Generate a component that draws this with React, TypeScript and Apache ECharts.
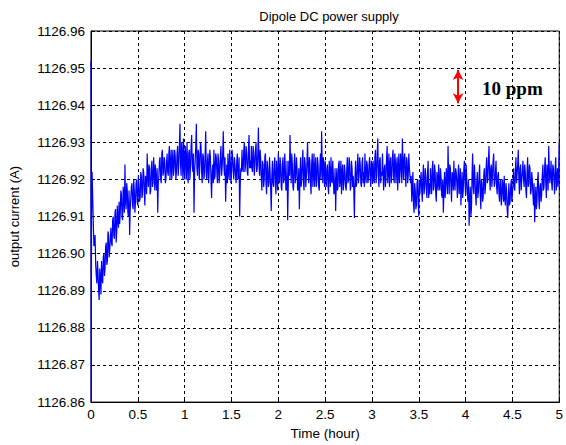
import React, { useEffect, useRef } from "react";
import * as echarts from "echarts";

// Output current is stored as an offset in mA above BASE_CURRENT (A)
const BASE_CURRENT = 1126.9;

// Turn-on transient (hours, mA offset)
const earlyTimes = [0, 0.002, 0.006, 0.012];
const earlyOffsets = [52, -40, 10, 22];

// Regularly sampled record after the transient (every SAMPLE_STEP hours)
const SAMPLE_START = 0.025; // hour
const SAMPLE_STEP = 0.0125; // hour
const sampledOffsets = [
  8, 3, -3, -8, -5, -12.5, -7,
  -2, -8, 0, -4, 3, -2, 5, 1,
  7, 2, 10, 4, 12, 6, 9, 14,
  11, 16, 9, 15, 24, 12, 17, 10,
  5, 15, 19, 12, 17, 14, 20, 13,
  18, 15, 21, 16, 22, 13, 19, 27,
  18, 23, 17, 25, 19, 22, 24, 17,
  11, 21, 26, 19, 28, 22, 25, 20,
  27, 21, 29, 24, 20, 28, 23, 26,
  22, 29, 24, 35, 21, 27, 31, 20,
  26, 30, 19, 28, 23, 32, 22, 11,
  25, 35, 21, 27, 24, 29, 19, 26,
  22, 33, 20, 27, 23, 26, 15, 24,
  28, 21, 26, 19, 25, 22, 29, 23,
  33, 21, 14, 24, 27, 20, 25, 22,
  26, 20, 24, 19, 27, 21, 10, 23,
  28, 22, 30, 24, 27, 21, 32, 25,
  29, 22, 27, 24, 30, 23, 34, 21,
  25, 17, 24, 20, 27, 16, 23, 19,
  22, 11.5, 25, 18, 26, 16, 21, 27,
  19, 24, 17, 26, 20, 23, 18, 9,
  25, 32, 19, 24, 17, 27, 21, 23,
  18, 12, 26, 20, 28, 17, 24, 21,
  30, 19, 25, 16, 27, 22, 18, 26,
  20, 24, 17, 27, 33, 19, 23, 25,
  18, 24, 16, 22, 26, 19, 21, 17,
  11.5, 23, 18, 25, 20, 16, 24, 19,
  22, 17, 26, 20, 24, 18, 23, 21,
  9.6, 25, 19, 27, 21, 24, 18, 26,
  22, 27, 19, 24, 20, 26, 18, 23,
  25, 19, 28, 21, 31, 18, 26, 22,
  27, 17, 24, 20, 29, 22, 18, 26,
  21, 28, 19, 25, 23, 17, 27, 22,
  24, 31, 20, 27, 18, 25, 21, 23,
  19, 14, 22, 11, 17, 13, 20, 10,
  16, 22, 14, 24, 18, 21, 15, 25,
  19, 23, 16, 25, 18, 22, 14, 20,
  24, 17, 21, 15, 11, 22, 18, 20,
  29, 16, 23, 14, 21, 25, 17, 22,
  15, 24, 19, 13, 22, 17, 25, 16,
  20, 14, 7.5, 18, 12, 27, 16, 21,
  13, 22, 17, 24, 12, 19, 15, 23,
  18, 26, 20, 29, 17, 24, 21, 27,
  19, 25, 16, 22, 14, 20, 15, 18,
  21, 13, 17, 9.6, 19, 14, 20, 16,
  23, 17, 26, 19, 28, 16, 24, 20,
  25, 18, 22, 15, 26, 19, 23, 17,
  20, 13, 8.5, 18, 14, 22, 12, 19,
  16, 24, 18, 26, 15, 22, 29, 19,
  25, 17, 23, 16, 26, 20, 18, 30,
];

// Readings taken half-way between consecutive samples above
const midOffsets = [
  2, 5, -6, -2, -10, -4, -11,
  -7, -1, -6, 2, -3, 6, -1, 4,
  3, 9, 5, 11, 3, 13, 7, 8,
  17, 10, 18, 11, 14, 19, 11, 17,
  12, 18, 13, 20, 11, 19, 14, 21,
  14, 22, 15, 23, 17, 21, 16, 21,
  24, 16, 23, 18, 26, 17, 20, 23,
  19, 25, 20, 27, 21, 26, 19, 24,
  22, 27, 20, 28, 25, 21, 28, 20,
  27, 21, 29, 24, 30, 20, 23, 29,
  20, 24, 27, 20, 29, 24, 27, 22,
  29, 23, 28, 20, 30, 22, 27, 20,
  27, 21, 25, 19, 28, 20, 22, 19,
  20, 27, 22, 27, 19, 26, 21, 27,
  24, 26, 20, 19, 22, 28, 19, 28,
  22, 26, 21, 25, 20, 26, 19, 22,
  23, 28, 22, 29, 22, 28, 23, 23,
  23, 29, 21, 28, 22, 27, 24, 28,
  20, 25, 18, 26, 19, 25, 18, 26,
  17, 21, 19, 24, 19, 25, 17, 22,
  26, 18, 24, 19, 27, 17, 25, 18,
  21, 24, 27, 18, 24, 19, 26, 17,
  23, 20, 18, 25, 19, 26, 18, 25,
  22, 26, 19, 24, 18, 27, 23, 18,
  26, 18, 23, 20, 24, 26, 18, 21,
  23, 18, 25, 18, 20, 25, 16, 23,
  19, 17, 24, 18, 25, 22, 17, 24,
  18, 23, 19, 26, 17, 25, 18, 17,
  20, 18, 24, 19, 26, 19, 24, 19,
  18, 21, 25, 19, 24, 21, 25, 19,
  20, 26, 19, 27, 21, 25, 19, 21,
  21, 23, 18, 26, 19, 27, 24, 19,
  26, 21, 27, 19, 26, 23, 19, 27,
  19, 24, 26, 21, 26, 19, 27, 21,
  21, 18, 13, 19, 12, 19, 14, 20,
  20, 17, 21, 16, 23, 17, 22, 15,
  16, 19, 23, 17, 24, 16, 22, 17,
  19, 23, 16, 20, 17, 15, 23, 16,
  21, 24, 18, 22, 17, 19, 23, 19,
  21, 16, 23, 18, 15, 23, 19, 24,
  16, 20, 14, 10, 21, 18, 24, 16,
  19, 15, 21, 16, 20, 14, 21, 16,
  23, 19, 25, 21, 23, 18, 25, 18,
  22, 18, 21, 16, 19, 13, 20, 14,
  15, 19, 12, 15, 13, 18, 14, 19,
  18, 22, 19, 24, 20, 23, 17, 22,
  20, 24, 17, 22, 18, 24, 16, 22,
  16, 19, 14, 12, 20, 15, 18, 14,
  21, 17, 23, 19, 24, 17, 23, 21,
  19, 24, 20, 23, 17, 23, 22,
];

// Axes
const X_MIN = 0, X_MAX = 5, X_INTERVAL = 0.5;
const Y_MIN = 1126.86, Y_MAX = 1126.96, Y_INTERVAL = 0.01;

// 10 ppm marker (hour, current A)
const ppmMarkerTime = 3.92;
const ppmMarkerTop = 1126.9495;
const ppmMarkerBottom = 1126.9405;
const ppmLabel = "10 ppm";

const TITLE = "Dipole DC power supply";
const X_NAME = "Time (hour)";
const Y_NAME = "output current (A)";

export default function App() {
  const ref = useRef<HTMLDivElement>(null);

  useEffect(() => {
    if (!ref.current) return;
    const chart = echarts.init(ref.current, undefined, { renderer: "svg" });

    const data: [number, number][] = [];
    earlyTimes.forEach((t, i) => data.push([t, BASE_CURRENT + earlyOffsets[i] / 1000]));
    sampledOffsets.forEach((m, i) => {
      const t = SAMPLE_START + i * SAMPLE_STEP;
      data.push([t, BASE_CURRENT + m / 1000]);
      if (i < midOffsets.length) {
        data.push([t + SAMPLE_STEP / 2, BASE_CURRENT + midOffsets[i] / 1000]);
      }
    });

    const font = "Arial, 'Liberation Sans', Helvetica, sans-serif";
    const dashed = { color: "#000", width: 1, type: [3, 3] as any };

    chart.setOption({
      animation: false,
      backgroundColor: "#fff",
      title: {
        text: TITLE,
        left: 324,
        textAlign: "center",
        top: 5,
        textStyle: { fontFamily: font, fontSize: 13, fontWeight: "normal", color: "#000" },
      },
      grid: {
        left: 88,
        right: 5,
        top: 31,
        bottom: 41,
        show: true,
        borderColor: "#000",
        borderWidth: 1,
        backgroundColor: "#fff",
      },
      xAxis: {
        type: "value",
        min: X_MIN,
        max: X_MAX,
        interval: X_INTERVAL,
        name: X_NAME,
        nameLocation: "middle",
        nameGap: 23,
        nameTextStyle: { fontFamily: font, fontSize: 13.5, color: "#000" },
        axisLine: { lineStyle: { color: "#000" } },
        axisTick: { show: true, inside: true, length: 4, lineStyle: { color: "#000" } },
        axisLabel: { fontFamily: font, fontSize: 13.5, color: "#000", margin: 5 },
        splitLine: { show: true, lineStyle: dashed },
      },
      yAxis: {
        type: "value",
        min: Y_MIN,
        max: Y_MAX,
        interval: Y_INTERVAL,
        name: Y_NAME,
        nameLocation: "middle",
        nameGap: 70,
        nameTextStyle: { fontFamily: font, fontSize: 13, color: "#000" },
        axisLine: { lineStyle: { color: "#000" } },
        axisTick: { show: true, inside: true, length: 4, lineStyle: { color: "#000" } },
        axisLabel: {
          fontFamily: font,
          fontSize: 13.5,
          color: "#000",
          margin: 6,
          formatter: (v: number) => v.toFixed(2),
        },
        splitLine: { show: true, lineStyle: dashed },
      },
      series: [
        {
          type: "line",
          data,
          showSymbol: false,
          symbol: "none",
          lineStyle: { color: "#0000ff", width: 1.2 },
          clip: true,
          markLine: {
            silent: true,
            symbol: ["arrow", "arrow"],
            symbolSize: [8, 10],
            label: { show: false },
            lineStyle: { color: "#ff0000", width: 2, type: "solid" },
            data: [
              [
                { coord: [ppmMarkerTime, ppmMarkerTop] },
                { coord: [ppmMarkerTime, ppmMarkerBottom] },
              ],
            ],
          },
        },
      ],
      graphic: [
        {
          type: "text",
          left: 482,
          top: 79,
          style: {
            text: ppmLabel,
            fontFamily: "'Liberation Serif', 'Times New Roman', serif",
            fontSize: 19,
            fontWeight: "bold",
            fill: "#000",
          },
        },
      ],
    });

    return () => chart.dispose();
  }, []);

  return (
    <div
      ref={ref}
      style={{ position: "fixed", left: 0, top: 0, width: 566, height: 445 }}
    />
  );
}
